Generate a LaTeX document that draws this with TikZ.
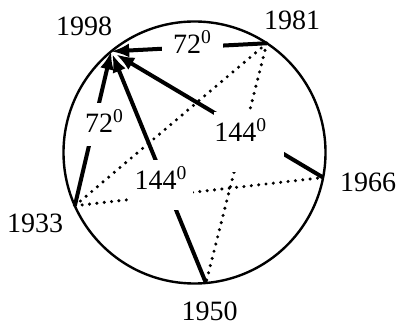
\documentclass[tikz,border=0pt]{standalone}
\usepackage{fontspec}
\setmainfont{Liberation Serif}
\usepackage{tikz}
\usetikzlibrary{arrows.meta,calc}

\tikzset{
  yearlbl/.style={font=\fontsize{14}{16}\selectfont},
  anglbl/.style={font=\fontsize{14}{16}\selectfont,fill=white,inner sep=0pt},
  solidchord/.style={line width=2pt,-{Latex[length=9pt,width=7pt]}},
  dotchord/.style={line width=1.7pt,line cap=round,dash pattern=on 0pt off 3.7pt},
}

\begin{document}
\begin{tikzpicture}[x=0.5pt,y=0.5pt]
  \useasboundingbox (0,0) rectangle (399,325);
  \coordinate (o) at (194.5,172.5);
  \draw[line width=1.2pt] (o) circle (131);
  % the five years on the circle
  \foreach \a/\yr in {129.5/1998,56.5/1981,-11/1966,-85/1950,-156/1933} {
    \coordinate (y\yr) at ($(o)+(\a:131)$);
  }
  \node[yearlbl] (l1998) at (84,299) {1998};
  \node[yearlbl] (l1981) at (292,305) {1981};
  \node[yearlbl] (l1966) at (368,143) {1966};
  \node[yearlbl] (l1950) at (209.5,14) {1950};
  \node[yearlbl] (l1933) at (35,102) {1933};
  % hidden star edges
  \draw[dotchord] (y1981) -- (y1933);
  \draw[dotchord] (y1981) -- (y1950);
  \draw[dotchord] (y1933) -- (y1966);
  % steps back to 1998
  \draw[solidchord] (y1981) -- (y1998);
  \draw[solidchord] (y1933) -- (y1998);
  \draw[solidchord,shorten >=1.5pt] (y1950) -- (y1998);
  \draw[solidchord,shorten >=3pt] (y1966) -- (y1998);
  % angle labels, white boxes break the chords
  \node[anglbl,inner xsep=5.5pt,inner ysep=1pt] (a72top) at (192.5,283) {72\textsuperscript{0}};
  \node[anglbl,anchor=base,inner xsep=1pt,text height=15pt,text depth=6.5pt] (a72left) at (104.5,192) {72\textsuperscript{0}};
  \node[anglbl,anchor=base,inner xsep=3pt,text height=15pt,text depth=10pt] (a144low) at (161,135) {144\textsuperscript{0}};
  \node[anglbl,anchor=base west,text width=35pt,text height=15pt,text depth=15pt] (a144up) at (214,183) {144\textsuperscript{0}};
\end{tikzpicture}
\end{document}
